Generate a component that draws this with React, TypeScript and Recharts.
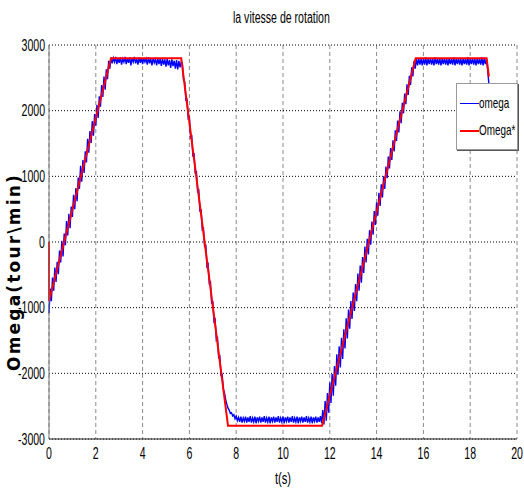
import React from 'react';
import { LineChart, Line, XAxis, YAxis, CartesianGrid, Legend } from 'recharts';

const sans = "'Liberation Sans', Arial, sans-serif";
const squeeze = 0.66;

const xTicks = [0, 2, 4, 6, 8, 10, 12, 14, 16, 18, 20];
const yTicks = [-3000, -2000, -1000, 0, 1000, 2000, 3000];

// reference speed Omega* (breakpoints of the profile)
const refTime = [0, 0, 2.65, 5.65, 7.65, 11.67, 15.67, 18.7, 18.8];
const refSpeed = [0, -900, 2800, 2800, -2800, -2800, 2800, 2800, 2520];

const omegaStep = 0.05;
const omegaSpeed = [
  -1080, -710, -900, -540, -740, -390, -610, -300, -490, -130, -310, 20, -220, 130, -50, 320, 100, 430, 210, 540,
  380, 720, 500, 820, 620, 980, 810, 1160, 920, 1250, 1050, 1380, 1210, 1570, 1360, 1690, 1510, 1840, 1620, 1950,
  1770, 2090, 1890, 2220, 2060, 2390, 2210, 2520, 2320, 2630, 2480, 2760, 2640, 2810, 2720, 2800, 2740, 2820, 2710, 2800,
  2730, 2810, 2700, 2790, 2740, 2820, 2710, 2800, 2730, 2810, 2690, 2800, 2740, 2820, 2720, 2790, 2700, 2810, 2730, 2800,
  2710, 2800, 2740, 2790, 2700, 2810, 2720, 2790, 2690, 2800, 2730, 2780, 2690, 2800, 2710, 2790, 2680, 2790, 2700, 2780,
  2670, 2790, 2690, 2770, 2650, 2780, 2680, 2760, 2640, 2770, 2630, 2760, 2660, 2740, 2720, 2460, 2440, 2160, 2170, 1880,
  1900, 1590, 1610, 1300, 1350, 1040, 1080, 770, 790, 460, 500, 190, 210, -80, -40, -370, -340, -630, -610, -940,
  -900, -1210, -1180, -1490, -1460, -1760, -1740, -2030, -2020, -2240, -2300, -2400, -2470, -2530, -2560, -2610, -2600, -2650, -2630, -2690,
  -2650, -2720, -2670, -2740, -2660, -2750, -2680, -2730, -2660, -2750, -2670, -2740, -2650, -2750, -2680, -2740, -2660, -2760, -2670, -2730,
  -2660, -2750, -2670, -2740, -2650, -2750, -2680, -2740, -2660, -2760, -2670, -2730, -2660, -2750, -2670, -2740, -2650, -2750, -2680, -2740,
  -2660, -2760, -2670, -2730, -2660, -2750, -2670, -2740, -2650, -2750, -2680, -2740, -2660, -2760, -2670, -2730, -2660, -2750, -2670, -2740,
  -2650, -2750, -2680, -2740, -2660, -2760, -2670, -2730, -2660, -2750, -2670, -2740, -2650, -2760, -2560, -2780, -2420, -2720, -2300, -2600,
  -2140, -2450, -2010, -2340, -1890, -2190, -1710, -2020, -1590, -1910, -1460, -1780, -1330, -1620, -1160, -1470, -1030, -1320, -900, -1170,
  -770, -1050, -640, -900, -480, -740, -360, -620, -230, -470, -70, -310, 50, -190, 180, -40, 310, 110, 470, 260,
  600, 400, 750, 550, 880, 680, 1000, 810, 1150, 970, 1300, 1120, 1430, 1250, 1550, 1380, 1700, 1540, 1850, 1670,
  1990, 1810, 2120, 1960, 2260, 2100, 2400, 2240, 2530, 2390, 2660, 2520, 2760, 2640, 2790, 2690, 2800, 2700, 2790, 2690,
  2790, 2700, 2810, 2690, 2790, 2710, 2800, 2700, 2790, 2690, 2810, 2710, 2790, 2700, 2800, 2690, 2790, 2710, 2800, 2700,
  2790, 2690, 2800, 2710, 2790, 2700, 2810, 2690, 2790, 2710, 2800, 2700, 2790, 2690, 2800, 2710, 2790, 2700, 2810, 2690,
  2790, 2710, 2800, 2700, 2790, 2690, 2800, 2710, 2790, 2700, 2810, 2690, 2800, 2710, 2790, 2600, 2400,
];

const omegaData = omegaSpeed.map((v, i) => ({ t: Math.round(i * omegaStep * 100) / 100, v }));
const refData = refTime.map((t, i) => ({ t, v: refSpeed[i] }));

const Narrow: React.FC<{ children: React.ReactNode; origin?: string }> = ({ children, origin = 'left' }) => (
  <span
    style={{
      display: 'inline-block',
      transform: `scaleX(${squeeze})`,
      transformOrigin: origin,
      whiteSpace: 'nowrap',
    }}
  >
    {children}
  </span>
);

const XTick = (props: any) => {
  const { x, y, payload } = props;
  return (
    <g transform={`translate(${x},${y})`}>
      <text transform={`scale(${squeeze},1)`} textAnchor="middle" dy="0.72em" fontFamily={sans} fontSize={16} fill="#000">
        {payload.value}
      </text>
    </g>
  );
};

const YTick = (props: any) => {
  const { x, y, payload } = props;
  return (
    <g transform={`translate(${x},${y})`}>
      <text transform={`scale(${squeeze},1)`} textAnchor="end" dy="0.36em" fontFamily={sans} fontSize={16} fill="#000">
        {payload.value}
      </text>
    </g>
  );
};

const LegendBox = () => (
  <div
    style={{
      width: 60,
      height: 65,
      background: '#fff',
      border: '1px solid #9a9a9a',
      boxShadow: '1px 1px 0 #555',
      position: 'relative',
      fontFamily: sans,
      fontSize: 15,
      color: '#000',
    }}
  >
    <div style={{ position: 'absolute', left: 3, top: 19, width: 19, height: 1, background: '#0000ff' }} />
    <div style={{ position: 'absolute', left: 22, top: 10, lineHeight: '17px' }}>
      <Narrow>omega</Narrow>
    </div>
    <div style={{ position: 'absolute', left: 3, top: 46, width: 19, height: 2, background: '#ff0000' }} />
    <div style={{ position: 'absolute', left: 22, top: 37, lineHeight: '17px' }}>
      <Narrow>Omega*</Narrow>
    </div>
  </div>
);

const App: React.FC = () => {
  return (
    <div style={{ position: 'fixed', left: 0, top: 0, width: 524, height: 493, background: '#fff' }}>
      <div
        style={{
          position: 'absolute',
          left: 181,
          width: 200,
          top: 9,
          textAlign: 'center',
          fontFamily: sans,
          fontSize: 16,
          color: '#000',
        }}
      >
        <Narrow origin="center">la vitesse de rotation</Narrow>
      </div>
      <LineChart width={524} height={493} margin={{ top: 45, right: 7, left: 0, bottom: 0 }}>
        <CartesianGrid horizontal={false} stroke="#8a8a8a" strokeDasharray="4 3" />
        <CartesianGrid vertical={false} stroke="#000" strokeDasharray="1 2" />
        <XAxis
          dataKey="t"
          type="number"
          domain={[0, 20]}
          ticks={xTicks}
          interval={0}
          height={54}
          tickLine={false}
          axisLine={{ stroke: '#222' }}
          tick={<XTick />}
          allowDuplicatedCategory={false}
          label={({ viewBox }: any) => (
            <g transform={`translate(${viewBox.x + viewBox.width / 2},${viewBox.y + 45})`}>
              <text transform={`scale(${squeeze},1)`} textAnchor="middle" fontFamily={sans} fontSize={17} fill="#000">
                t(s)
              </text>
            </g>
          )}
        />
        <YAxis
          type="number"
          domain={[-3000, 3000]}
          ticks={yTicks}
          interval={0}
          width={49}
          tickLine={false}
          tickSize={2}
          tickMargin={2}
          axisLine={{ stroke: '#777' }}
          tick={<YTick />}
          label={({ viewBox }: any) => (
            <text
              x={14}
              y={viewBox.y + viewBox.height / 2 + 30}
              transform={`rotate(-90, 14, ${viewBox.y + viewBox.height / 2 + 30})`}
              textAnchor="middle"
              dominantBaseline="central"
              fontFamily="'DejaVu Sans', sans-serif"
              fontWeight="bold"
              fontSize={17}
              letterSpacing={2.2}
              fill="#000"
            >
              Omega(tour\min)
            </text>
          )}
        />
        <Legend
          layout="vertical"
          align="center"
          verticalAlign="middle"
          wrapperStyle={{ left: 456, top: 83, width: 62, height: 67 }}
          content={() => <LegendBox />}
        />
        <Line
          data={omegaData}
          dataKey="v"
          name="omega"
          stroke="#0000ff"
          strokeWidth={1.4}
          dot={false}
          isAnimationActive={false}
        />
        <Line
          data={refData}
          dataKey="v"
          name="Omega*"
          stroke="#ff0000"
          strokeWidth={2}
          dot={false}
          isAnimationActive={false}
        />
      </LineChart>
    </div>
  );
};

export default App;
